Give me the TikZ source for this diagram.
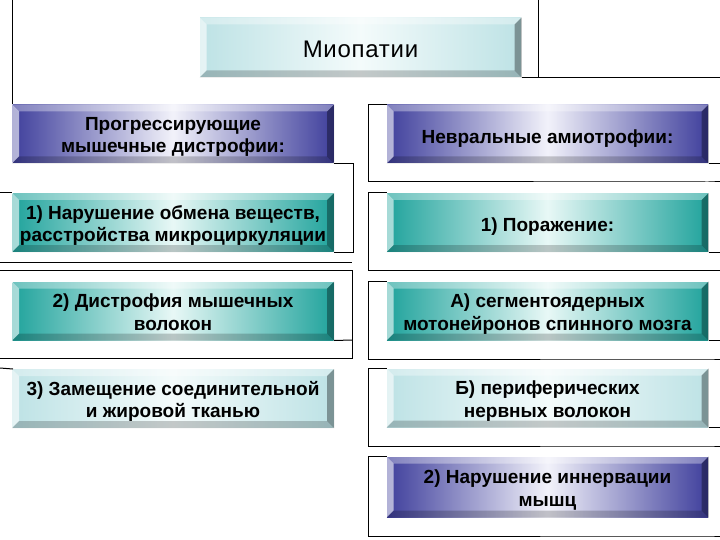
\documentclass[tikz,border=0pt]{standalone}
\usepackage{fontspec}
\setmainfont{Liberation Sans}
\usepackage{tikz}
\usetikzlibrary{positioning}

\definecolor{bluedk}{HTML}{3F3F9C}
\definecolor{bluelt}{HTML}{F2F2FA}
\definecolor{tealdk}{HTML}{20A39C}
\definecolor{teallt}{HTML}{E8F8F6}
\definecolor{cyandk}{HTML}{BDE2E5}
\definecolor{cyanlt}{HTML}{F4FBFB}

% bevelled edge of a box
\newcommand\bevel[1]{%
  \fill[white,opacity=.35] (#1.north west) -- (#1.north east) -- ([shift={(-7,7)}]#1.north east) -- ([shift={(7,7)}]#1.north west) -- cycle;
  \fill[white,opacity=.6] (#1.north west) -- ([shift={(7,7)}]#1.north west) -- ([shift={(7,-7)}]#1.south west) -- (#1.south west) -- cycle;
  \fill[black,opacity=.35] (#1.north east) -- (#1.south east) -- ([shift={(-7,-7)}]#1.south east) -- ([shift={(-7,7)}]#1.north east) -- cycle;
  \fill[black,opacity=.2] (#1.south west) -- (#1.south east) -- ([shift={(-7,-7)}]#1.south east) -- ([shift={(7,-7)}]#1.south west) -- cycle;
}

\begin{document}
\begin{tikzpicture}[x=1pt,y=-1pt,line width=1pt,
  box/.style={rectangle,inner sep=2pt,align=center,minimum width=321pt,minimum height=58pt,
    font=\fontsize{19}{22.5}\selectfont\bfseries},
  one/.style={text height=18.6pt,text depth=0pt},
  two/.style={text height=38pt,text depth=0pt},
  bluebox/.style={box,left color=bluedk,right color=bluedk,middle color=bluelt},
  tealbox/.style={box,left color=tealdk,right color=tealdk,middle color=teallt},
  cyanbox/.style={box,left color=cyandk,right color=cyandk,middle color=cyanlt}]
  \useasboundingbox (0,0) rectangle (720,540);
  % boxes
  \node[cyanbox,font=\fontsize{24}{28}\selectfont\addfontfeature{LetterSpace=3},
    minimum height=59pt,text height=21pt,text depth=0pt] (mio) at (360.5,47.5) {Миопатии};
  \node[bluebox,two] (prog) at (173,134) {Прогрессирующие\\мышечные дистрофии:};
  \node[tealbox,two] (lf1) at (173,222.5) {1) Нарушение обмена веществ,\\расстройства микроциркуляции};
  \node[tealbox,two] (lf2) at (173,311) {2) Дистрофия мышечных\\волокон};
  \node[cyanbox,two] (lf3) at (173,398.5) {3) Замещение соединительной\\и жировой тканью};
  \node[bluebox,one] (nevr) at (547.5,134) {Невральные амиотрофии:};
  \node[tealbox,one] (rt1) at (547.5,222.5) {1) Поражение:};
  \node[tealbox,two] (rtA) at (547.5,311) {А) сегментоядерных\\мотонейронов спинного мозга};
  \node[cyanbox,two] (rtB) at (547.5,398) {Б) периферических\\нервных волокон};
  \node[bluebox,two,minimum height=60pt] (rt2) at (547.5,487) {2) Нарушение иннервации\\мышц};
  \foreach \n in {mio,prog,lf1,lf2,lf3,nevr,rt1,rtA,rtB,rt2} {\bevel{\n}}
  % frame lines
  \draw (538,0) -- (538,0 |- mio.south);
  \draw (mio.south east) -- (mio.south east -| 720,0);
  \draw (prog.north west -| 12,0) -- (12,0);
  \draw (prog.south east) -- ++(19,0) |- (lf1.south east);
  \draw (lf1.north west -| 0,0) -- (lf1.north west);
  \draw (0,262) -- (352,262);
  \draw (0,270) -- (352,270) -- (352,358) -- (0,358);
  \draw (lf2.south east) -- (352,340);
  \draw (0,368) -- (lf3.north west -| 13,0);
  \foreach \n in {nevr,rt1,rtA,rtB,rt2} {
    \draw (\n.north west) -- (\n.north west -| 368,0) |- ([yshift=-18.5pt]\n.south east) -- ++(12,0);
  }
  \foreach \n in {nevr,rt1,rtA,rtB} {
    \draw (\n.south east) -- (\n.south east -| 720,0);
  }
\end{tikzpicture}
\end{document}
